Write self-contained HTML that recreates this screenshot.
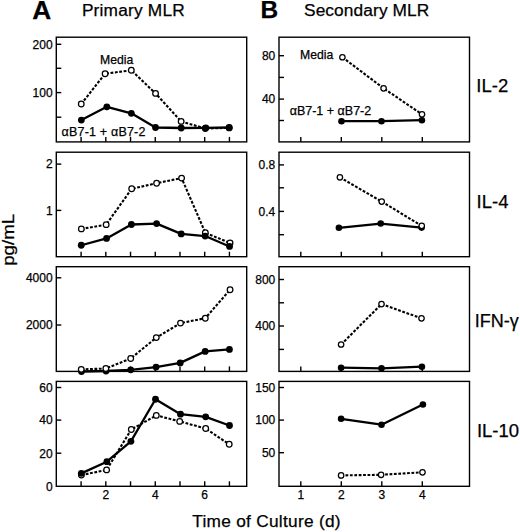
<!DOCTYPE html>
<html><head><meta charset="utf-8"><style>
html,body{margin:0;padding:0;background:#fff;width:520px;height:532px;overflow:hidden}
svg{display:block;font-family:"Liberation Sans",sans-serif}
text{stroke:#000;stroke-width:0.25px}
.t{font-size:12px}
.a{font-size:12.5px}
</style></head><body>
<svg width="520" height="532" viewBox="0 0 520 532">
<rect x="56.3" y="37.2" width="190.40" height="104.70" fill="none" stroke="#000" stroke-width="1.4"/>
<line x1="56.3" y1="44.3" x2="61.3" y2="44.3" stroke="#000" stroke-width="1.4"/>
<text x="52.60" y="48.60" text-anchor="end" class="t">200</text>
<line x1="56.3" y1="68.3" x2="61.3" y2="68.3" stroke="#000" stroke-width="1.4"/>
<line x1="56.3" y1="92.6" x2="61.3" y2="92.6" stroke="#000" stroke-width="1.4"/>
<text x="52.60" y="96.90" text-anchor="end" class="t">100</text>
<line x1="56.3" y1="117.2" x2="61.3" y2="117.2" stroke="#000" stroke-width="1.4"/>
<line x1="81.10" y1="141.9" x2="81.10" y2="136.9" stroke="#000" stroke-width="1.4"/>
<line x1="105.82" y1="141.9" x2="105.82" y2="136.9" stroke="#000" stroke-width="1.4"/>
<line x1="130.54" y1="141.9" x2="130.54" y2="136.9" stroke="#000" stroke-width="1.4"/>
<line x1="155.26" y1="141.9" x2="155.26" y2="136.9" stroke="#000" stroke-width="1.4"/>
<line x1="179.98" y1="141.9" x2="179.98" y2="136.9" stroke="#000" stroke-width="1.4"/>
<line x1="204.70" y1="141.9" x2="204.70" y2="136.9" stroke="#000" stroke-width="1.4"/>
<line x1="229.42" y1="141.9" x2="229.42" y2="136.9" stroke="#000" stroke-width="1.4"/>
<polyline points="81.25,103.95 105.10,73.70 131.30,70.30 155.55,93.40 181.15,121.40 205.30,128.50 229.20,127.90" fill="none" stroke="#000" stroke-width="2.1" stroke-dasharray="2.8 1.6"/>
<circle cx="81.25" cy="103.95" r="2.82" fill="#fff" stroke="#000" stroke-width="1.25"/><circle cx="105.10" cy="73.70" r="2.82" fill="#fff" stroke="#000" stroke-width="1.25"/><circle cx="131.30" cy="70.30" r="2.82" fill="#fff" stroke="#000" stroke-width="1.25"/><circle cx="155.55" cy="93.40" r="2.82" fill="#fff" stroke="#000" stroke-width="1.25"/><circle cx="181.15" cy="121.40" r="2.82" fill="#fff" stroke="#000" stroke-width="1.25"/><circle cx="205.30" cy="128.50" r="2.82" fill="#fff" stroke="#000" stroke-width="1.25"/><circle cx="229.20" cy="127.90" r="2.82" fill="#fff" stroke="#000" stroke-width="1.25"/>
<polyline points="81.35,120.10 106.85,106.80 131.35,113.30 155.50,127.50 181.20,128.00 205.80,127.80 229.20,127.50" fill="none" stroke="#000" stroke-width="2.3" stroke-linejoin="round"/>
<circle cx="81.35" cy="120.10" r="3.4" fill="#000"/><circle cx="106.85" cy="106.80" r="3.4" fill="#000"/><circle cx="131.35" cy="113.30" r="3.4" fill="#000"/><circle cx="155.50" cy="127.50" r="3.4" fill="#000"/><circle cx="181.20" cy="128.00" r="3.4" fill="#000"/><circle cx="205.80" cy="127.80" r="3.4" fill="#000"/><circle cx="229.20" cy="127.50" r="3.4" fill="#000"/>
<rect x="56.3" y="152.2" width="190.40" height="104.50" fill="none" stroke="#000" stroke-width="1.4"/>
<line x1="56.3" y1="164.1" x2="61.3" y2="164.1" stroke="#000" stroke-width="1.4"/>
<text x="52.60" y="168.40" text-anchor="end" class="t">2</text>
<line x1="56.3" y1="210.4" x2="61.3" y2="210.4" stroke="#000" stroke-width="1.4"/>
<text x="52.60" y="214.70" text-anchor="end" class="t">1</text>
<line x1="81.10" y1="256.7" x2="81.10" y2="251.7" stroke="#000" stroke-width="1.4"/>
<line x1="105.82" y1="256.7" x2="105.82" y2="251.7" stroke="#000" stroke-width="1.4"/>
<line x1="130.54" y1="256.7" x2="130.54" y2="251.7" stroke="#000" stroke-width="1.4"/>
<line x1="155.26" y1="256.7" x2="155.26" y2="251.7" stroke="#000" stroke-width="1.4"/>
<line x1="179.98" y1="256.7" x2="179.98" y2="251.7" stroke="#000" stroke-width="1.4"/>
<line x1="204.70" y1="256.7" x2="204.70" y2="251.7" stroke="#000" stroke-width="1.4"/>
<line x1="229.42" y1="256.7" x2="229.42" y2="251.7" stroke="#000" stroke-width="1.4"/>
<polyline points="81.35,228.90 106.15,224.65 131.70,188.80 156.60,183.20 181.60,178.10 205.35,232.80 230.05,243.00" fill="none" stroke="#000" stroke-width="2.1" stroke-dasharray="2.8 1.6"/>
<circle cx="81.35" cy="228.90" r="2.82" fill="#fff" stroke="#000" stroke-width="1.25"/><circle cx="106.15" cy="224.65" r="2.82" fill="#fff" stroke="#000" stroke-width="1.25"/><circle cx="131.70" cy="188.80" r="2.82" fill="#fff" stroke="#000" stroke-width="1.25"/><circle cx="156.60" cy="183.20" r="2.82" fill="#fff" stroke="#000" stroke-width="1.25"/><circle cx="181.60" cy="178.10" r="2.82" fill="#fff" stroke="#000" stroke-width="1.25"/><circle cx="205.35" cy="232.80" r="2.82" fill="#fff" stroke="#000" stroke-width="1.25"/><circle cx="230.05" cy="243.00" r="2.82" fill="#fff" stroke="#000" stroke-width="1.25"/>
<polyline points="81.25,245.25 106.55,238.45 131.40,224.50 156.60,223.60 181.20,233.90 205.15,236.05 229.55,246.45" fill="none" stroke="#000" stroke-width="2.3" stroke-linejoin="round"/>
<circle cx="81.25" cy="245.25" r="3.4" fill="#000"/><circle cx="106.55" cy="238.45" r="3.4" fill="#000"/><circle cx="131.40" cy="224.50" r="3.4" fill="#000"/><circle cx="156.60" cy="223.60" r="3.4" fill="#000"/><circle cx="181.20" cy="233.90" r="3.4" fill="#000"/><circle cx="205.15" cy="236.05" r="3.4" fill="#000"/><circle cx="229.55" cy="246.45" r="3.4" fill="#000"/>
<rect x="56.3" y="266.7" width="190.40" height="104.70" fill="none" stroke="#000" stroke-width="1.4"/>
<line x1="56.3" y1="277.8" x2="61.3" y2="277.8" stroke="#000" stroke-width="1.4"/>
<text x="52.60" y="282.10" text-anchor="end" class="t">4000</text>
<line x1="56.3" y1="325.0" x2="61.3" y2="325.0" stroke="#000" stroke-width="1.4"/>
<text x="52.60" y="329.30" text-anchor="end" class="t">2000</text>
<line x1="81.10" y1="371.4" x2="81.10" y2="366.4" stroke="#000" stroke-width="1.4"/>
<line x1="105.82" y1="371.4" x2="105.82" y2="366.4" stroke="#000" stroke-width="1.4"/>
<line x1="130.54" y1="371.4" x2="130.54" y2="366.4" stroke="#000" stroke-width="1.4"/>
<line x1="155.26" y1="371.4" x2="155.26" y2="366.4" stroke="#000" stroke-width="1.4"/>
<line x1="179.98" y1="371.4" x2="179.98" y2="366.4" stroke="#000" stroke-width="1.4"/>
<line x1="204.70" y1="371.4" x2="204.70" y2="366.4" stroke="#000" stroke-width="1.4"/>
<line x1="229.42" y1="371.4" x2="229.42" y2="366.4" stroke="#000" stroke-width="1.4"/>
<polyline points="81.25,369.35 105.85,368.55 130.70,358.50 156.30,337.60 180.50,323.10 205.30,318.20 230.05,289.75" fill="none" stroke="#000" stroke-width="2.1" stroke-dasharray="2.8 1.6"/>
<polyline points="81.50,371.50 106.00,371.00 130.70,369.80 156.05,367.10 180.20,362.90 205.15,351.40 229.45,349.45" fill="none" stroke="#000" stroke-width="2.3" stroke-linejoin="round"/>
<circle cx="81.50" cy="371.50" r="3.4" fill="#000"/><circle cx="106.00" cy="371.00" r="3.4" fill="#000"/><circle cx="130.70" cy="369.80" r="3.4" fill="#000"/><circle cx="156.05" cy="367.10" r="3.4" fill="#000"/><circle cx="180.20" cy="362.90" r="3.4" fill="#000"/><circle cx="205.15" cy="351.40" r="3.4" fill="#000"/><circle cx="229.45" cy="349.45" r="3.4" fill="#000"/>
<circle cx="81.25" cy="369.35" r="2.82" fill="#fff" stroke="#000" stroke-width="1.25"/><circle cx="105.85" cy="368.55" r="2.82" fill="#fff" stroke="#000" stroke-width="1.25"/><circle cx="130.70" cy="358.50" r="2.82" fill="#fff" stroke="#000" stroke-width="1.25"/><circle cx="156.30" cy="337.60" r="2.82" fill="#fff" stroke="#000" stroke-width="1.25"/><circle cx="180.50" cy="323.10" r="2.82" fill="#fff" stroke="#000" stroke-width="1.25"/><circle cx="205.30" cy="318.20" r="2.82" fill="#fff" stroke="#000" stroke-width="1.25"/><circle cx="230.05" cy="289.75" r="2.82" fill="#fff" stroke="#000" stroke-width="1.25"/>
<rect x="56.3" y="381.4" width="190.40" height="104.90" fill="none" stroke="#000" stroke-width="1.4"/>
<line x1="56.3" y1="387.5" x2="61.3" y2="387.5" stroke="#000" stroke-width="1.4"/>
<text x="52.60" y="391.80" text-anchor="end" class="t">60</text>
<line x1="56.3" y1="420.1" x2="61.3" y2="420.1" stroke="#000" stroke-width="1.4"/>
<text x="52.60" y="424.40" text-anchor="end" class="t">40</text>
<line x1="56.3" y1="453.2" x2="61.3" y2="453.2" stroke="#000" stroke-width="1.4"/>
<text x="52.60" y="457.50" text-anchor="end" class="t">20</text>
<text x="52.60" y="490.60" text-anchor="end" class="t">0</text>
<line x1="81.10" y1="486.3" x2="81.10" y2="481.3" stroke="#000" stroke-width="1.4"/>
<line x1="105.82" y1="486.3" x2="105.82" y2="481.3" stroke="#000" stroke-width="1.4"/>
<line x1="130.54" y1="486.3" x2="130.54" y2="481.3" stroke="#000" stroke-width="1.4"/>
<line x1="155.26" y1="486.3" x2="155.26" y2="481.3" stroke="#000" stroke-width="1.4"/>
<line x1="179.98" y1="486.3" x2="179.98" y2="481.3" stroke="#000" stroke-width="1.4"/>
<line x1="204.70" y1="486.3" x2="204.70" y2="481.3" stroke="#000" stroke-width="1.4"/>
<line x1="229.42" y1="486.3" x2="229.42" y2="481.3" stroke="#000" stroke-width="1.4"/>
<polyline points="81.40,475.10 106.60,469.90 131.30,429.50 156.30,415.40 179.70,421.40 205.70,428.55 229.20,444.30" fill="none" stroke="#000" stroke-width="2.1" stroke-dasharray="2.8 1.6"/>
<circle cx="81.40" cy="475.10" r="2.82" fill="#fff" stroke="#000" stroke-width="1.25"/><circle cx="106.60" cy="469.90" r="2.82" fill="#fff" stroke="#000" stroke-width="1.25"/><circle cx="131.30" cy="429.50" r="2.82" fill="#fff" stroke="#000" stroke-width="1.25"/><circle cx="156.30" cy="415.40" r="2.82" fill="#fff" stroke="#000" stroke-width="1.25"/><circle cx="179.70" cy="421.40" r="2.82" fill="#fff" stroke="#000" stroke-width="1.25"/><circle cx="205.70" cy="428.55" r="2.82" fill="#fff" stroke="#000" stroke-width="1.25"/><circle cx="229.20" cy="444.30" r="2.82" fill="#fff" stroke="#000" stroke-width="1.25"/>
<polyline points="81.30,473.35 106.85,461.70 130.90,441.30 155.50,399.25 180.50,414.15 205.70,416.85 229.50,425.50" fill="none" stroke="#000" stroke-width="2.3" stroke-linejoin="round"/>
<circle cx="81.30" cy="473.35" r="3.4" fill="#000"/><circle cx="106.85" cy="461.70" r="3.4" fill="#000"/><circle cx="130.90" cy="441.30" r="3.4" fill="#000"/><circle cx="155.50" cy="399.25" r="3.4" fill="#000"/><circle cx="180.50" cy="414.15" r="3.4" fill="#000"/><circle cx="205.70" cy="416.85" r="3.4" fill="#000"/><circle cx="229.50" cy="425.50" r="3.4" fill="#000"/>
<rect x="279.0" y="37.2" width="190.50" height="104.70" fill="none" stroke="#000" stroke-width="1.4"/>
<line x1="279.0" y1="55.7" x2="284.0" y2="55.7" stroke="#000" stroke-width="1.4"/>
<text x="275.30" y="60.00" text-anchor="end" class="t">80</text>
<line x1="279.0" y1="77.4" x2="284.0" y2="77.4" stroke="#000" stroke-width="1.4"/>
<line x1="279.0" y1="99.1" x2="284.0" y2="99.1" stroke="#000" stroke-width="1.4"/>
<text x="275.30" y="103.40" text-anchor="end" class="t">40</text>
<line x1="279.0" y1="120.5" x2="284.0" y2="120.5" stroke="#000" stroke-width="1.4"/>
<line x1="300.80" y1="141.9" x2="300.80" y2="136.9" stroke="#000" stroke-width="1.4"/>
<line x1="341.30" y1="141.9" x2="341.30" y2="136.9" stroke="#000" stroke-width="1.4"/>
<line x1="381.80" y1="141.9" x2="381.80" y2="136.9" stroke="#000" stroke-width="1.4"/>
<line x1="422.30" y1="141.9" x2="422.30" y2="136.9" stroke="#000" stroke-width="1.4"/>
<polyline points="342.40,57.25 383.60,88.30 422.00,114.30" fill="none" stroke="#000" stroke-width="2.1" stroke-dasharray="2.8 1.6"/>
<polyline points="341.50,121.20 381.50,121.20 421.90,120.20" fill="none" stroke="#000" stroke-width="2.3" stroke-linejoin="round"/>
<circle cx="341.50" cy="121.20" r="3.3" fill="#000"/><circle cx="381.50" cy="121.20" r="3.3" fill="#000"/><circle cx="421.90" cy="120.20" r="3.3" fill="#000"/>
<circle cx="342.40" cy="57.25" r="2.72" fill="#fff" stroke="#000" stroke-width="1.25"/><circle cx="383.60" cy="88.30" r="2.72" fill="#fff" stroke="#000" stroke-width="1.25"/><circle cx="422.00" cy="114.30" r="2.72" fill="#fff" stroke="#000" stroke-width="1.25"/>
<rect x="279.0" y="152.2" width="190.50" height="104.50" fill="none" stroke="#000" stroke-width="1.4"/>
<line x1="279.0" y1="164.9" x2="284.0" y2="164.9" stroke="#000" stroke-width="1.4"/>
<text x="275.30" y="169.20" text-anchor="end" class="t">0.8</text>
<line x1="279.0" y1="187.8" x2="284.0" y2="187.8" stroke="#000" stroke-width="1.4"/>
<line x1="279.0" y1="211.4" x2="284.0" y2="211.4" stroke="#000" stroke-width="1.4"/>
<text x="275.30" y="215.70" text-anchor="end" class="t">0.4</text>
<line x1="279.0" y1="234.7" x2="284.0" y2="234.7" stroke="#000" stroke-width="1.4"/>
<line x1="300.80" y1="256.7" x2="300.80" y2="251.7" stroke="#000" stroke-width="1.4"/>
<line x1="341.30" y1="256.7" x2="341.30" y2="251.7" stroke="#000" stroke-width="1.4"/>
<line x1="381.80" y1="256.7" x2="381.80" y2="251.7" stroke="#000" stroke-width="1.4"/>
<line x1="422.30" y1="256.7" x2="422.30" y2="251.7" stroke="#000" stroke-width="1.4"/>
<polyline points="339.90,177.35 381.70,201.60 421.75,225.85" fill="none" stroke="#000" stroke-width="2.1" stroke-dasharray="2.8 1.6"/>
<polyline points="338.90,227.80 380.70,223.55 421.60,227.60" fill="none" stroke="#000" stroke-width="2.3" stroke-linejoin="round"/>
<circle cx="338.90" cy="227.80" r="3.3" fill="#000"/><circle cx="380.70" cy="223.55" r="3.3" fill="#000"/><circle cx="421.60" cy="227.60" r="3.3" fill="#000"/>
<circle cx="339.90" cy="177.35" r="2.72" fill="#fff" stroke="#000" stroke-width="1.25"/><circle cx="381.70" cy="201.60" r="2.72" fill="#fff" stroke="#000" stroke-width="1.25"/><circle cx="421.75" cy="225.85" r="2.72" fill="#fff" stroke="#000" stroke-width="1.25"/>
<rect x="279.0" y="266.7" width="190.50" height="104.70" fill="none" stroke="#000" stroke-width="1.4"/>
<line x1="279.0" y1="279.5" x2="284.0" y2="279.5" stroke="#000" stroke-width="1.4"/>
<text x="275.30" y="283.80" text-anchor="end" class="t">800</text>
<line x1="279.0" y1="302.8" x2="284.0" y2="302.8" stroke="#000" stroke-width="1.4"/>
<line x1="279.0" y1="326.0" x2="284.0" y2="326.0" stroke="#000" stroke-width="1.4"/>
<text x="275.30" y="330.30" text-anchor="end" class="t">400</text>
<line x1="279.0" y1="349.4" x2="284.0" y2="349.4" stroke="#000" stroke-width="1.4"/>
<line x1="300.80" y1="371.4" x2="300.80" y2="366.4" stroke="#000" stroke-width="1.4"/>
<line x1="341.30" y1="371.4" x2="341.30" y2="366.4" stroke="#000" stroke-width="1.4"/>
<line x1="381.80" y1="371.4" x2="381.80" y2="366.4" stroke="#000" stroke-width="1.4"/>
<line x1="422.30" y1="371.4" x2="422.30" y2="366.4" stroke="#000" stroke-width="1.4"/>
<polyline points="341.10,344.50 381.50,304.10 421.50,318.30" fill="none" stroke="#000" stroke-width="2.1" stroke-dasharray="2.8 1.6"/>
<polyline points="341.10,367.70 381.50,368.35 421.90,366.70" fill="none" stroke="#000" stroke-width="2.3" stroke-linejoin="round"/>
<circle cx="341.10" cy="367.70" r="3.3" fill="#000"/><circle cx="381.50" cy="368.35" r="3.3" fill="#000"/><circle cx="421.90" cy="366.70" r="3.3" fill="#000"/>
<circle cx="341.10" cy="344.50" r="2.72" fill="#fff" stroke="#000" stroke-width="1.25"/><circle cx="381.50" cy="304.10" r="2.72" fill="#fff" stroke="#000" stroke-width="1.25"/><circle cx="421.50" cy="318.30" r="2.72" fill="#fff" stroke="#000" stroke-width="1.25"/>
<rect x="279.0" y="381.4" width="190.50" height="104.90" fill="none" stroke="#000" stroke-width="1.4"/>
<line x1="279.0" y1="387.5" x2="284.0" y2="387.5" stroke="#000" stroke-width="1.4"/>
<text x="275.30" y="391.80" text-anchor="end" class="t">150</text>
<line x1="279.0" y1="420.1" x2="284.0" y2="420.1" stroke="#000" stroke-width="1.4"/>
<text x="275.30" y="424.40" text-anchor="end" class="t">100</text>
<line x1="279.0" y1="452.7" x2="284.0" y2="452.7" stroke="#000" stroke-width="1.4"/>
<text x="275.30" y="457.00" text-anchor="end" class="t">50</text>
<line x1="300.80" y1="486.3" x2="300.80" y2="481.3" stroke="#000" stroke-width="1.4"/>
<line x1="341.30" y1="486.3" x2="341.30" y2="481.3" stroke="#000" stroke-width="1.4"/>
<line x1="381.80" y1="486.3" x2="381.80" y2="481.3" stroke="#000" stroke-width="1.4"/>
<line x1="422.30" y1="486.3" x2="422.30" y2="481.3" stroke="#000" stroke-width="1.4"/>
<polyline points="341.10,475.40 381.10,474.80 422.50,472.30" fill="none" stroke="#000" stroke-width="2.1" stroke-dasharray="2.8 1.6"/>
<polyline points="341.10,418.80 381.50,424.70 422.90,404.50" fill="none" stroke="#000" stroke-width="2.3" stroke-linejoin="round"/>
<circle cx="341.10" cy="418.80" r="3.3" fill="#000"/><circle cx="381.50" cy="424.70" r="3.3" fill="#000"/><circle cx="422.90" cy="404.50" r="3.3" fill="#000"/>
<circle cx="341.10" cy="475.40" r="2.72" fill="#fff" stroke="#000" stroke-width="1.25"/><circle cx="381.10" cy="474.80" r="2.72" fill="#fff" stroke="#000" stroke-width="1.25"/><circle cx="422.50" cy="472.30" r="2.72" fill="#fff" stroke="#000" stroke-width="1.25"/>
<text x="105.82" y="499.1" text-anchor="middle" class="t">2</text>
<text x="155.26" y="499.1" text-anchor="middle" class="t">4</text>
<text x="204.70" y="499.1" text-anchor="middle" class="t">6</text>
<text x="300.80" y="499.1" text-anchor="middle" class="t">1</text>
<text x="341.30" y="499.1" text-anchor="middle" class="t">2</text>
<text x="381.80" y="499.1" text-anchor="middle" class="t">3</text>
<text x="422.30" y="499.1" text-anchor="middle" class="t">4</text>
<text x="100" y="63.6" style="font-size:12.2px">Media</text>
<text x="61.6" y="136" class="a" textLength="83.8" lengthAdjust="spacing">αB7-1 + αB7-2</text>
<text x="300" y="59.2" style="font-size:12.2px">Media</text>
<text x="289.7" y="114.9" class="a">αB7-1 + αB7-2</text>
<text x="32.3" y="18.6" font-size="25" font-weight="bold" textLength="19" lengthAdjust="spacingAndGlyphs">A</text>
<text x="81.9" y="16.1" font-size="17.3" textLength="102.8" lengthAdjust="spacing">Primary MLR</text>
<text x="260.6" y="18.3" font-size="24.5" font-weight="bold">B</text>
<text x="304.0" y="16.1" font-size="17.3" textLength="125.3" lengthAdjust="spacing">Secondary MLR</text>
<text x="476.3" y="92.1" font-size="18.5">IL-2</text>
<text x="476.6" y="207.6" font-size="18.5">IL-4</text>
<text x="474.7" y="327.0" font-size="18.5" textLength="44.0" lengthAdjust="spacingAndGlyphs">IFN-γ</text>
<text x="476.9" y="437.3" font-size="18.5">IL-10</text>
<text transform="translate(13.6,265.8) rotate(-90)" x="0" y="0" font-size="17.4" textLength="52" lengthAdjust="spacingAndGlyphs">pg/mL</text>
<text x="192.3" y="527.2" font-size="17.3" textLength="148.3" lengthAdjust="spacing">Time of Culture (d)</text>
</svg>
</body></html>
